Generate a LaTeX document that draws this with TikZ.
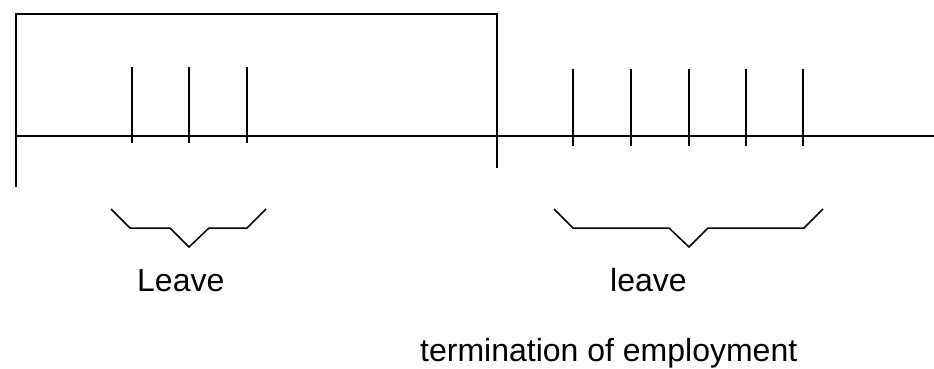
\documentclass[tikz,border=0pt]{standalone}
\usepackage{fontspec}
\setmainfont{Liberation Sans}
\usetikzlibrary{calc}

\begin{document}
\begin{tikzpicture}[x=1pt,y=-1pt,
    tick/.style={line width=1.8},
    brace/.style={line width=1.5,line join=miter},
    lbl/.style={anchor=base west,inner sep=0pt,font=\fontsize{32}{38}\selectfont}]

  \useasboundingbox (0,0) rectangle (934,369);

  %%%% Base line and employment frame %%%%
  \coordinate (Start) at (16,136);
  \coordinate (End)   at (934,136);
  \coordinate (Term)  at (497,136);
  \draw[line width=2.2] (Start) -- (End);
  \draw[line width=1.5] (16,187) -- (16,14) -- (497,14) -- (497,168);

  %% ticks during employment
  \foreach \x in {132,189,247}{
    \coordinate (in\x) at (\x,136);
    \draw[tick] (\x,67) -- (\x,143);
  }
  %% ticks after termination
  \foreach \x in {573,631,689,746,803}{
    \coordinate (out\x) at (\x,136);
    \draw[tick] (\x,69) -- (\x,146);
  }

  %% braces under the ticks
  \draw[brace] (111,209) -- (130,228) -- (170,228) -- (189,247)
               -- (209,228) -- (247,228) -- (266,209);
  \draw[brace] (554,209) -- (573,228) -- (669,228) -- (689,247)
               -- (708,228) -- (804,228) -- (823,209);

  %% labels
  \node[lbl] (leaveA) at (137,291.5) {Leave};
  \node[lbl] (leaveB) at (610,291.5) {leave};
  \node[lbl] (term)   at (420,361.5) {termination of employment};

\end{tikzpicture}
\end{document}
